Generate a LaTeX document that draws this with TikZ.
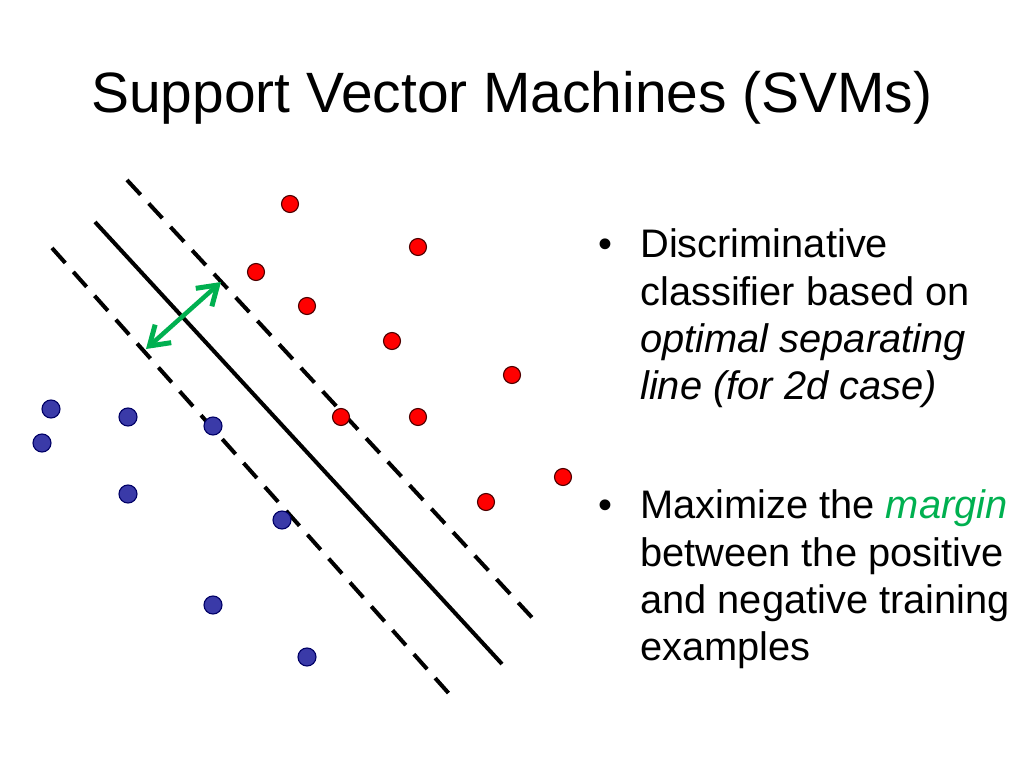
\documentclass[tikz,border=0pt]{standalone}
\usepackage{fontspec}
\setmainfont{Liberation Sans}
\usetikzlibrary{arrows.meta}
\definecolor{posred}{RGB}{255,0,0}
\definecolor{negblue}{RGB}{58,58,168}
\definecolor{mgreen}{RGB}{0,176,80}
\begin{document}
\begin{tikzpicture}[x=0.703125pt,y=-0.703125pt,
  posdot/.style={circle,fill=posred,draw=black!70!red,line width=0.8pt,minimum size=17*0.703125pt,inner sep=0pt},
  negdot/.style={circle,fill=negblue,draw=black!60!blue,line width=0.8pt,minimum size=18*0.703125pt,inner sep=0pt},
  sepline/.style={line width=4*0.703125pt,black},
  marginline/.style={sepline,dash pattern=on 20*0.703125pt off 12*0.703125pt},
  marginarrow/.style={mgreen,line width=4.5*0.703125pt,
    >={Straight Barb[length=13pt,width=17pt,line width=3.5pt]},<->},
  bodytext/.style={font=\fontsize{28}{33.4}\selectfont,anchor=base west,inner sep=0pt}]
\useasboundingbox[fill=white] (0,0) rectangle (1024,768);
\node[font=\fontsize{40}{48}\selectfont,anchor=base west,inner sep=0pt] (title) at (91,113) {Support Vector Machines (SVMs)};
% lines
\coordinate (s1) at (95,222); \coordinate (s2) at (502,664);
\coordinate (u1) at (127,180); \coordinate (u2) at (538,624);
\coordinate (l1) at (52,248); \coordinate (l2) at (452,697);
\draw[sepline] (s1) -- (s2);
\draw[marginline] (u1) -- (u2);
\draw[marginline] (l1) -- (l2);
% margin arrow
\coordinate (a1) at (146,349); \coordinate (a2) at (221,282);
\draw[marginarrow] (a1) -- (a2);
% positive points
\foreach \n/\x/\y in {p1/290/204,p2/418/247,p3/256/272,p4/307/306,p5/392/341,p6/512/375,p7/341/417,p8/418/417,p9/563/477,p10/486/502}
  \node[posdot] (\n) at (\x,\y) {};
% negative points
\foreach \n/\x/\y in {n1/51/409,n2/42/443,n3/128/417,n4/213/426,n5/128/494,n6/282/520,n7/213/605,n8/307/657}
  \node[negdot] (\n) at (\x,\y) {};
% bullets
\node[bodytext] (b1) at (598,258) {\textbullet};
\node[bodytext] (t1a) at (640,258) {Discriminative};
\node[bodytext] (t1b) at (640,305) {classifier based on};
\node[bodytext] (t1c) at (640,352) {\textit{optimal separating}};
\node[bodytext] (t1d) at (640,399) {\textit{line (for 2d case)}};
\node[bodytext] (b2) at (598,518) {\textbullet};
\node[bodytext] (t2a) at (640,518) {Maximize the \textcolor{mgreen}{\textit{margin}}};
\node[bodytext] (t2b) at (640,566) {between the positive};
\node[bodytext] (t2c) at (640,613) {and negative training};
\node[bodytext] (t2d) at (640,660) {examples};
\end{tikzpicture}
\end{document}
